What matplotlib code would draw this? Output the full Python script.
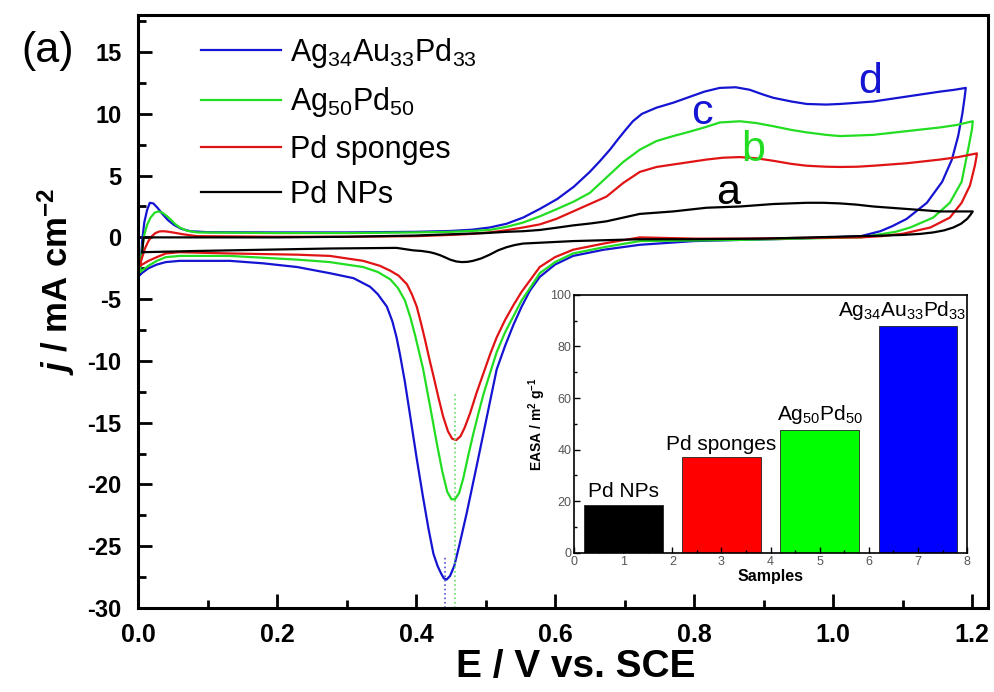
import matplotlib
matplotlib.use('Agg')
import matplotlib.pyplot as plt
from matplotlib.ticker import MultipleLocator

plt.rcParams['font.family'] = ['Liberation Sans', 'DejaVu Sans']
plt.rcParams['mathtext.fontset'] = 'custom'
plt.rcParams['mathtext.rm'] = 'Liberation Sans'
plt.rcParams['mathtext.it'] = 'Liberation Sans:italic'
plt.rcParams['mathtext.bf'] = 'Liberation Sans:bold'
plt.rcParams['mathtext.bfit'] = 'Liberation Sans:italic:bold'
plt.rcParams['axes.unicode_minus'] = False

# Ag34Au33Pd33 (blue, d)
e_fwd_d = [0.003, 0.004, 0.006, 0.009, 0.013, 0.017, 0.022, 0.028, 0.035, 0.043, 0.052, 0.062, 0.075, 0.1, 0.2, 0.3, 0.4, 0.45, 0.48, 0.506, 0.53, 0.554, 0.578, 0.603, 0.627, 0.65, 0.665, 0.679, 0.69, 0.70, 0.712, 0.725, 0.746, 0.77, 0.79, 0.815, 0.837, 0.86, 0.88, 0.9, 0.914, 0.94, 0.962, 0.99, 1.01, 1.035, 1.058, 1.082, 1.106, 1.13, 1.154, 1.175, 1.191]
j_fwd_d = [-3.0, -2.0, -0.3, 1.2, 2.2, 2.8, 2.75, 2.4, 1.9, 1.4, 1.0, 0.7, 0.5, 0.42, 0.4, 0.4, 0.45, 0.52, 0.62, 0.8, 1.1, 1.6, 2.3, 3.1, 4.1, 5.3, 6.2, 7.1, 7.9, 8.6, 9.4, 10.0, 10.5, 10.9, 11.3, 11.8, 12.1, 12.15, 11.95, 11.55, 11.3, 11.0, 10.8, 10.75, 10.8, 10.9, 11.0, 11.2, 11.4, 11.6, 11.8, 11.95, 12.1]
e_rev_d = [1.191, 1.189, 1.186, 1.18, 1.171, 1.157, 1.135, 1.106, 1.085, 1.068, 1.04, 0.95, 0.87, 0.8, 0.722, 0.67, 0.626, 0.6, 0.578, 0.564, 0.552, 0.54, 0.528, 0.516, 0.502, 0.488, 0.473, 0.462, 0.455, 0.449, 0.444, 0.44, 0.436, 0.431, 0.425, 0.418, 0.41, 0.401, 0.392, 0.384, 0.377, 0.372, 0.366, 0.358, 0.345, 0.334, 0.31, 0.276, 0.229, 0.18, 0.132, 0.06, 0.04, 0.027, 0.015, 0.003]
j_rev_d = [12.1, 11.2, 10.0, 8.2, 6.3, 4.5, 2.8, 1.5, 0.9, 0.5, 0.1, -0.1, -0.2, -0.3, -0.6, -1.0, -1.5, -2.2, -3.2, -4.3, -5.6, -7.1, -8.8, -10.7, -14.5, -18.3, -22.3, -25.0, -26.6, -27.4, -27.7, -27.6, -27.2, -26.6, -25.6, -23.6, -21.0, -17.9, -14.6, -11.7, -9.5, -8.1, -6.8, -5.6, -4.6, -4.0, -3.3, -2.9, -2.4, -2.1, -1.9, -1.9, -2.0, -2.2, -2.5, -3.0]

# Ag50Pd50 (green, b)
e_fwd_b = [0.003, 0.004, 0.006, 0.009, 0.013, 0.018, 0.024, 0.029, 0.035, 0.041, 0.046, 0.053, 0.06, 0.07, 0.085, 0.2, 0.3, 0.4, 0.45, 0.48, 0.506, 0.53, 0.554, 0.578, 0.603, 0.627, 0.65, 0.675, 0.698, 0.722, 0.746, 0.77, 0.79, 0.815, 0.837, 0.866, 0.89, 0.914, 0.94, 0.962, 0.99, 1.01, 1.035, 1.058, 1.082, 1.106, 1.13, 1.154, 1.178, 1.201]
j_fwd_b = [-2.8, -2.0, -0.9, 0.2, 1.0, 1.6, 2.0, 2.1, 2.0, 1.75, 1.5, 1.1, 0.8, 0.55, 0.4, 0.35, 0.35, 0.4, 0.45, 0.52, 0.6, 0.85, 1.2, 1.7, 2.3, 2.9, 3.6, 4.9, 6.1, 7.1, 7.8, 8.2, 8.5, 8.9, 9.3, 9.4, 9.25, 9.0, 8.7, 8.5, 8.3, 8.2, 8.25, 8.3, 8.45, 8.6, 8.75, 8.9, 9.1, 9.4]
e_rev_b = [1.201, 1.2, 1.198, 1.195, 1.185, 1.168, 1.144, 1.111, 1.09, 1.068, 1.04, 0.95, 0.87, 0.8, 0.722, 0.67, 0.626, 0.6, 0.578, 0.564, 0.552, 0.54, 0.528, 0.516, 0.507, 0.497, 0.49, 0.482, 0.475, 0.468, 0.462, 0.456, 0.451, 0.445, 0.438, 0.43, 0.42, 0.41, 0.399, 0.392, 0.384, 0.374, 0.363, 0.345, 0.324, 0.3, 0.276, 0.229, 0.132, 0.06, 0.04, 0.027, 0.015, 0.003]
j_rev_b = [9.4, 8.8, 8.2, 7.3, 4.5, 2.8, 1.6, 0.8, 0.45, 0.25, 0.0, -0.1, -0.2, -0.25, -0.3, -0.8, -1.3, -2.0, -2.9, -4.1, -5.1, -6.4, -7.7, -9.3, -10.9, -12.7, -14.2, -16.0, -17.7, -19.5, -20.7, -21.2, -21.2, -20.6, -19.0, -16.7, -13.6, -10.6, -8.0, -6.5, -5.1, -4.1, -3.4, -2.8, -2.4, -2.2, -2.0, -1.8, -1.5, -1.5, -1.6, -1.9, -2.3, -2.8]

# Pd sponges (red)
e_fwd_r = [0.003, 0.006, 0.01, 0.015, 0.02, 0.025, 0.031, 0.036, 0.042, 0.05, 0.065, 0.085, 0.2, 0.3, 0.4, 0.45, 0.48, 0.506, 0.53, 0.554, 0.578, 0.602, 0.626, 0.65, 0.674, 0.698, 0.722, 0.746, 0.77, 0.794, 0.818, 0.842, 0.866, 0.89, 0.914, 0.94, 0.962, 0.99, 1.01, 1.035, 1.058, 1.082, 1.106, 1.13, 1.154, 1.18, 1.207]
j_fwd_r = [-2.2, -1.6, -0.9, -0.3, 0.1, 0.35, 0.48, 0.5, 0.47, 0.4, 0.25, 0.1, 0.05, 0.05, 0.1, 0.2, 0.28, 0.4, 0.58, 0.8, 1.05, 1.5, 2.1, 2.7, 3.3, 4.4, 5.3, 5.7, 5.9, 6.1, 6.3, 6.45, 6.5, 6.4, 6.2, 5.95, 5.8, 5.72, 5.7, 5.72, 5.8, 5.9, 6.0, 6.15, 6.3, 6.5, 6.8]
e_rev_r = [1.207, 1.206, 1.204, 1.197, 1.185, 1.168, 1.14, 1.101, 1.07, 1.04, 0.95, 0.87, 0.8, 0.722, 0.67, 0.626, 0.6, 0.578, 0.565, 0.552, 0.54, 0.528, 0.516, 0.507, 0.497, 0.487, 0.478, 0.47, 0.464, 0.458, 0.452, 0.446, 0.439, 0.432, 0.425, 0.419, 0.413, 0.407, 0.401, 0.394, 0.387, 0.375, 0.363, 0.348, 0.324, 0.3, 0.276, 0.229, 0.132, 0.06, 0.04, 0.027, 0.015, 0.003]
j_rev_r = [6.8, 6.4, 5.8, 4.2, 2.8, 1.6, 0.8, 0.3, 0.1, 0.0, -0.05, -0.1, -0.1, 0.0, -0.5, -1.0, -1.6, -2.4, -3.4, -4.4, -5.5, -6.7, -8.1, -9.4, -11.0, -12.6, -14.2, -15.4, -16.1, -16.4, -16.3, -15.7, -14.5, -12.9, -11.2, -9.8, -8.3, -6.9, -5.6, -4.6, -3.8, -3.1, -2.7, -2.3, -1.9, -1.7, -1.5, -1.4, -1.3, -1.2, -1.3, -1.6, -1.9, -2.3]

# Pd NPs (black, a)
e_fwd_a = [0.006, 0.008, 0.1, 0.2, 0.3, 0.4, 0.45, 0.5, 0.53, 0.554, 0.578, 0.602, 0.626, 0.65, 0.674, 0.698, 0.722, 0.746, 0.77, 0.794, 0.818, 0.842, 0.866, 0.89, 0.914, 0.938, 0.962, 0.986, 1.01, 1.034, 1.058, 1.082, 1.106, 1.13, 1.154, 1.178, 1.201]
j_fwd_a = [-1.2, 0.0, 0.0, 0.0, 0.05, 0.15, 0.25, 0.35, 0.45, 0.5, 0.6, 0.78, 0.97, 1.12, 1.3, 1.6, 1.9, 2.0, 2.1, 2.25, 2.4, 2.45, 2.5, 2.6, 2.7, 2.75, 2.8, 2.8, 2.75, 2.65, 2.5, 2.4, 2.3, 2.2, 2.1, 2.1, 2.1]
e_rev_a = [1.201, 1.198, 1.193, 1.184, 1.173, 1.16, 1.144, 1.125, 1.101, 1.07, 1.04, 0.9, 0.8, 0.722, 0.626, 0.554, 0.542, 0.53, 0.518, 0.506, 0.494, 0.482, 0.474, 0.466, 0.458, 0.449, 0.442, 0.435, 0.427, 0.42, 0.408, 0.396, 0.372, 0.276, 0.18, 0.085, 0.006]
j_rev_a = [2.1, 1.85, 1.5, 1.1, 0.8, 0.57, 0.4, 0.28, 0.2, 0.14, 0.1, -0.1, -0.15, -0.15, -0.3, -0.5, -0.62, -0.8, -1.05, -1.4, -1.7, -1.9, -1.98, -2.0, -1.95, -1.8, -1.62, -1.45, -1.3, -1.2, -1.1, -1.05, -0.85, -0.9, -1.0, -1.1, -1.2]

# peak position markers
peak_e_d = 0.442
peak_j_d = -25.8
peak_e_b = 0.456
peak_j_b = -12.6

# inset EASA bars
samples = ['Pd NPs', 'Pd sponges', 'Ag$_{50}$Pd$_{50}$', 'Ag$_{34}$Au$_{33}$Pd$_{33}$']
sample_x = [1, 3, 5, 7]
easa = [18.5, 37, 47.5, 88]
bar_colors = ['#000000', '#ff0000', '#00ff00', '#0000ff']

fig = plt.figure(figsize=(9.95, 6.92), dpi=100)
ax = fig.add_axes([0.1387, 0.1214, 0.8543, 0.8569])

ax.plot(e_fwd_d + e_rev_d, j_fwd_d + j_rev_d, color='#1414d2', lw=1.6, label='Ag$_{34}$Au$_{33}$Pd$_{33}$')
ax.plot(e_fwd_b + e_rev_b, j_fwd_b + j_rev_b, color='#22dd22', lw=1.6, label='Ag$_{50}$Pd$_{50}$')
ax.plot(e_fwd_r + e_rev_r, j_fwd_r + j_rev_r, color='#e01414', lw=1.6, label='Pd sponges')
ax.plot(e_fwd_a + e_rev_a, j_fwd_a + j_rev_a, color='black', lw=1.6, label='Pd NPs')

ax.plot([peak_e_d, peak_e_d], [-30, peak_j_d], ':', color='#5050d0', lw=1.2)
ax.plot([peak_e_b, peak_e_b], [-30, peak_j_b], ':', color='#66dd66', lw=1.2)

ax.set_xlim(0, 1.223)
ax.set_ylim(-30, 18)
ax.xaxis.set_major_locator(MultipleLocator(0.2))
ax.xaxis.set_minor_locator(MultipleLocator(0.1))
ax.yaxis.set_major_locator(MultipleLocator(5))
ax.yaxis.set_minor_locator(MultipleLocator(2.5))
ax.tick_params(which='both', direction='in', width=2, top=False, right=False)
ax.tick_params(which='major', length=10)
ax.tick_params(which='minor', length=6)
ax.tick_params(axis='x', which='major', pad=11, labelsize=18)
ax.tick_params(axis='y', which='major', pad=12, labelsize=17)
for s in ax.spines.values():
    s.set_linewidth(2.2)
for lab in ax.get_xticklabels() + ax.get_yticklabels():
    lab.set_fontweight('bold')

ax.set_xlabel('E / V vs. SCE', fontsize=28, fontweight='bold')
ax.xaxis.set_label_coords(0.515, -0.07)
ax.set_ylabel('$\\mathbfit{j}$ / mA cm$^{\\mathbf{-2}}$', fontsize=25, fontweight='bold')
ax.yaxis.set_label_coords(-0.072, 0.55)

ax.legend(loc='upper left', bbox_to_anchor=(0.06, 0.985), frameon=False, fontsize=22,
          handlelength=2.6, handletextpad=0.3, labelspacing=0.5, borderaxespad=0)

ax.text(0.849, 3.6, 'a', color='black', fontsize=31, ha='center', va='center')
ax.text(0.885, 7.1, 'b', color='#22dd22', fontsize=31, ha='center', va='center')
ax.text(0.811, 10.1, 'c', color='#1414d2', fontsize=31, ha='center', va='center')
ax.text(1.053, 12.6, 'd', color='#1414d2', fontsize=31, ha='center', va='center')

fig.text(0.048, 0.926, '(a)', fontsize=31, ha='center', va='center')

# inset
ins = fig.add_axes([0.577, 0.201, 0.395, 0.373])
ins.bar(sample_x, easa, width=1.6, color=bar_colors, edgecolor='#222222', linewidth=0.6)
for x, h, name in zip(sample_x[:3], easa[:3], samples[:3]):
    ins.text(x, h + 1.5, name, fontsize=15, ha='center', va='bottom')
ins.text(7.98, easa[3] + 1.5, samples[3], fontsize=15, ha='right', va='bottom')
ins.set_xlim(0, 8)
ins.set_ylim(0, 100)
ins.xaxis.set_major_locator(MultipleLocator(1))
ins.xaxis.set_minor_locator(MultipleLocator(0.5))
ins.yaxis.set_major_locator(MultipleLocator(20))
ins.yaxis.set_minor_locator(MultipleLocator(10))
ins.tick_params(which='both', direction='in', width=1, labelsize=9, labelcolor='#555555', top=False, right=False, pad=2)
ins.tick_params(which='major', length=4)
ins.tick_params(which='minor', length=2)
for s in ins.spines.values():
    s.set_linewidth(1.2)
ins.set_xlabel('Samples', fontsize=11.5, fontweight='bold', labelpad=1)
ins.set_ylabel('EASA / m$^{\\mathbf{2}}$ g$^{\\mathbf{-1}}$', fontsize=10, fontweight='bold', labelpad=2)

fig.savefig('out.png', dpi=100)
